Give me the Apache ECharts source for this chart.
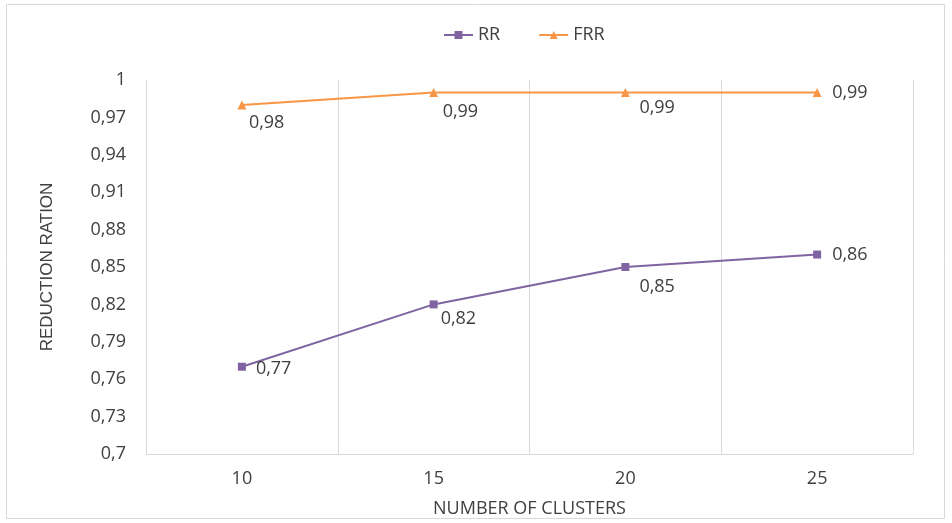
<!DOCTYPE html>
<html>
<head>
<meta charset="utf-8">
<script src="https://cdn.jsdelivr.net/npm/echarts@6/dist/echarts.min.js"></script>
<style>
html,body{margin:0;padding:0;background:#fff;}
#chart{width:952px;height:523px;}
</style>
</head>
<body>
<div id="chart"></div>
<script>
// Reduction ratios per number of clusters
const clusters = ['10', '15', '20', '25'];
const rrValues = [0.77, 0.82, 0.85, 0.86];
const frrValues = [0.98, 0.99, 0.99, 0.99];

// Data label placement: [dx, dy] in px from the marker centre to the label's left/middle
const rrLabelShift = [[14, 2], [7, 14], [14, 20], [15, 0]];
const frrLabelShift = [[7, 18], [9, 19], [14, 15], [15, 0]];

const fmt = v => String(Number(Number(v).toFixed(2))).replace('.', ',');
const font = '"Open Sans", sans-serif';
const textColor = '#404040';

function buildData(values, shifts, symbolSize) {
  const h = symbolSize / 2;
  return values.map((v, i) => ({
    value: v,
    label: {
      show: true,
      position: [shifts[i][0] + h, shifts[i][1] + h],
      align: 'left',
      verticalAlign: 'middle',
      formatter: p => fmt(p.value),
      color: textColor,
      fontSize: 18,
      fontFamily: font
    }
  }));
}

const RR_SIZE = 8;
const FRR_SIZE = 9;

const chart = echarts.init(document.getElementById('chart'));
chart.setOption({
  animation: false,
  backgroundColor: '#fff',
  graphic: [{
    type: 'rect',
    shape: { x: 6.5, y: 4.5, width: 938, height: 514 },
    style: { fill: 'none', stroke: '#d9d9d9', lineWidth: 1 },
    silent: true, z: -1
  }],
  legend: {
    top: 21,
    left: 438,
    itemGap: 38,
    itemWidth: 29,
    itemHeight: 10,
    textStyle: { color: textColor, fontSize: 18, fontFamily: font },
    data: ['RR', 'FRR']
  },
  grid: { left: 146, right: 39, top: 80, bottom: 69 },
  xAxis: {
    type: 'category',
    data: clusters,
    boundaryGap: true,
    name: 'NUMBER OF CLUSTERS',
    nameLocation: 'middle',
    nameGap: 46,
    nameTextStyle: { color: textColor, fontSize: 18, fontFamily: font },
    axisLine: { show: true, lineStyle: { color: '#d9d9d9', width: 1 } },
    axisTick: { show: false },
    splitLine: { show: true, lineStyle: { color: '#d9d9d9', width: 1 } },
    axisLabel: { color: textColor, fontSize: 18, fontFamily: font, margin: 16 }
  },
  yAxis: {
    type: 'value',
    min: 0.7,
    max: 1,
    interval: 0.03,
    name: 'REDUCTION RATION',
    nameLocation: 'middle',
    nameGap: 90,
    nameTextStyle: { color: textColor, fontSize: 17, fontFamily: '"Liberation Sans", Arial, sans-serif' },
    axisLine: { show: false },
    axisTick: { show: false },
    splitLine: { show: false },
    axisLabel: { color: textColor, fontSize: 18, fontFamily: font, margin: 20, formatter: fmt }
  },
  series: [
    {
      name: 'RR',
      type: 'line',
      data: buildData(rrValues, rrLabelShift, RR_SIZE),
      symbol: 'rect',
      symbolSize: RR_SIZE,
      color: '#8064A2',
      lineStyle: { width: 2, color: '#8064A2' },
      itemStyle: { color: '#8064A2' }
    },
    {
      name: 'FRR',
      type: 'line',
      data: buildData(frrValues, frrLabelShift, FRR_SIZE),
      symbol: 'triangle',
      symbolSize: FRR_SIZE,
      color: '#F79646',
      lineStyle: { width: 2, color: '#F79646' },
      itemStyle: { color: '#F79646' }
    }
  ]
});
</script>
</body>
</html>
